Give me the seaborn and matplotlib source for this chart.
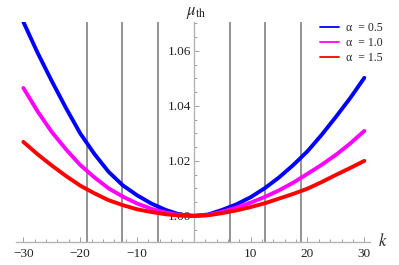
import numpy as np
import pandas as pd
import seaborn as sns
import matplotlib
matplotlib.use('Agg')
import matplotlib.pyplot as plt
from matplotlib.lines import Line2D
from matplotlib.ticker import MultipleLocator

# values
k_vals = [-30, -27.5, -25, -22.5, -20, -17.5, -15, -12.5, -10, -7.5, -5, -2.5, 0,
          2.5, 5, 7.5, 10, 12.5, 15, 17.5, 20, 22.5, 25, 27.5, 30]
mu_a05 = [1.0705, 1.0593, 1.0490, 1.0392, 1.0300, 1.0225, 1.0160, 1.0111, 1.0075, 1.0045, 1.0022, 1.0005, 1.0000,
          1.0005, 1.0022, 1.0042, 1.0068, 1.0101, 1.0140, 1.0185, 1.0235, 1.0295, 1.0360, 1.0428, 1.0502]
mu_a10 = [1.0465, 1.0380, 1.0305, 1.0242, 1.0185, 1.0140, 1.0100, 1.0070, 1.0045, 1.0026, 1.0012, 1.0003, 1.0000,
          1.0003, 1.0015, 1.0030, 1.0048, 1.0069, 1.0093, 1.0121, 1.0153, 1.0186, 1.0222, 1.0263, 1.0309]
mu_a15 = [1.0269, 1.0224, 1.0183, 1.0145, 1.0110, 1.0082, 1.0057, 1.0039, 1.0024, 1.0014, 1.0006, 1.0001, 1.0000,
          1.0002, 1.0010, 1.0020, 1.0032, 1.0046, 1.0063, 1.0080, 1.0099, 1.0123, 1.0149, 1.0174, 1.0200]
alpha_labels = ['0.5', '1.0', '1.5']
vlines_k = [-18.85, -12.57, -6.28, 6.28, 12.57, 18.85]

colors = ['#0000ff', '#ff00ff', '#ff0000']

df = pd.concat([
    pd.DataFrame({'k': k_vals, 'mu': m, 'alpha': a})
    for m, a in zip([mu_a05, mu_a10, mu_a15], alpha_labels)
])

sns.set_style('white')
plt.rcParams['font.family'] = ['Liberation Serif', 'DejaVu Serif']
plt.rcParams['mathtext.fontset'] = 'stix'

fig = plt.figure(figsize=(3.99, 2.65), dpi=100)
ax = fig.add_axes([16 / 399, 23 / 265, 354 / 399, 220 / 265])

for x in vlines_k:
    ax.axvline(x, color='#8a8a8a', lw=1.3, zorder=1)

sns.lineplot(data=df, x='k', y='mu', hue='alpha', palette=colors, lw=2.8,
             legend=False, ax=ax, zorder=3)

ax.set_xlim(-31.3, 31.0)
ax.set_ylim(0.9905, 1.0705)
ax.set_xlabel('')
ax.set_ylabel('')

ax.spines['left'].set_position(('data', 0))
ax.spines['top'].set_visible(False)
ax.spines['right'].set_visible(False)
for s in ['left', 'bottom']:
    ax.spines[s].set_color('#b5b5b5')
    ax.spines[s].set_linewidth(1.0)

ax.set_xticks([-30, -20, -10, 10, 20, 30])
ax.set_xticklabels(['\u221230', '\u221220', '\u221210', '10', '20', '30'])
ax.xaxis.set_minor_locator(MultipleLocator(2))
ax.set_yticks([1.00, 1.02, 1.04, 1.06])
ax.set_yticklabels(['1.00', '1.02', '1.04', '1.06'])
ax.yaxis.set_minor_locator(MultipleLocator(0.005))
ax.tick_params(which='both', direction='in', color='#909090', width=0.6,
               labelsize=9.5, labelcolor='#222222')
ax.tick_params(which='major', length=3.5)
ax.tick_params(which='minor', length=2)
ax.tick_params(axis='x', which='both', bottom=True, pad=4)
ax.tick_params(axis='y', which='both', left=True, pad=2)

fig.text(196 / 399, 1 - 13 / 265, r'$\mu_{\rm th}$', fontsize=12, ha='center', va='center')
fig.text(383 / 399, 1 - 241 / 265, r'$k$', fontsize=12, ha='center', va='center')

handles = [Line2D([0], [0], color=c, lw=1.3) for c in colors]
labels = [f'\u03b1  = {a}' for a in alpha_labels]
ax.legend(handles, labels, loc='upper right', bbox_to_anchor=(1.055, 1.03),
          frameon=False, fontsize=8.5, handlelength=1.6, handletextpad=0.6,
          labelspacing=0.25, borderaxespad=0.2)

fig.savefig('out.png', dpi=100)
